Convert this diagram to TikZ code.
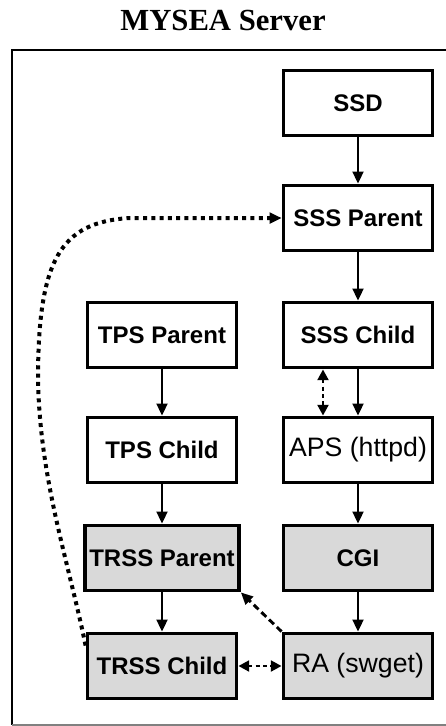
\documentclass[tikz,border=0pt]{standalone}
\usepackage{fontspec}
\setmainfont{Liberation Serif}
\setsansfont{Liberation Sans}
\usetikzlibrary{arrows.meta}
\usetikzlibrary{positioning}
\tikzset{
    mynode/.style = {rectangle, line width=2.6pt, draw=black, align=center, fill=white, minimum width=112pt, minimum height=49pt, font=\sffamily\bfseries\fontsize{18}{20}\selectfont, text=black},
    mynodeg/.style = {mynode, fill=gray!30},
    mynodel/.style = {mynode, font=\sffamily\fontsize{20}{22}\selectfont},
    edgen/.style = {-{Triangle[length=9pt,width=8pt]}, line width=2.2pt, black},
    edged/.style = {-{Triangle[length=9pt,width=8pt]}, line width=2.2pt, black, dash pattern=on 5pt off 3pt},
    edgedd/.style = {{Triangle[length=8pt,width=8pt]}-{Triangle[length=8pt,width=8pt]}, line width=2.2pt, black, dash pattern=on 3pt off 2.5pt},
    edgev/.style = {-{Triangle[length=9pt,width=8pt]}, line width=3pt, black, dash pattern=on 3pt off 3.2pt},
    frame/.style = {line width=1.8pt, black}
}

\begin{document}
\begin{tikzpicture}[x=0.75pt,y=-0.75pt]
\useasboundingbox (0,0) rectangle (446,726);
\node[font=\rmfamily\bfseries\fontsize{23}{25}\selectfont] at (223,20) (title) {MYSEA Server};
\draw[frame] (460,50) -- (12,50) -- (12,725);
\draw[gray, line width=1pt] (12,725) -- (460,725);

% server side
\node[mynode] at (358,103) (ssd) {SSD};
\node[mynode] at (358,218) (ssspar) {SSS Parent};
\node[mynode] at (358,335) (ssschild) {SSS Child};
\node[mynodel] at (358,450) (aps) {APS (httpd)};
\node[mynodeg] at (358,558) (cgi) {CGI};
\node[mynodeg, font=\sffamily\fontsize{20}{22}\selectfont] at (358,666) (ra) {RA (swget)};

% trusted path side
\node[mynode] at (162,335) (tpspar) {TPS Parent};
\node[mynode] at (162,450) (tpschild) {TPS Child};
\node[mynodeg] at (162,558) (trsspar) {TRSS Parent};
\node[mynodeg] at (162,666) (trsschild) {TRSS Child};

\draw[edgen] (ssd) -- (ssspar);
\draw[edgen] (ssspar) -- (ssschild);
\draw[edgen] (ssschild) -- (aps);
\draw[edgen] (aps) -- (cgi);
\draw[edgen] (cgi) -- (ra);
\draw[edgen] (tpspar) -- (tpschild);
\draw[edgen] (tpschild) -- (trsspar);
\draw[edgen] (trsspar) -- (trsschild);

\draw[edgedd] (ssschild.south west -| 323,0) -- (aps.north west -| 323,0);
\draw[edgedd] (trsschild) -- (ra);
\draw[edged] (ra.north west) -- (trsspar.south east);
\draw[edgev] (trsschild.165) .. controls (68,560) and (40,480) .. (38,380)
    .. controls (38,260) and (60,222) .. (130,218) -- (ssspar.west);

\end{tikzpicture}
\end{document}
